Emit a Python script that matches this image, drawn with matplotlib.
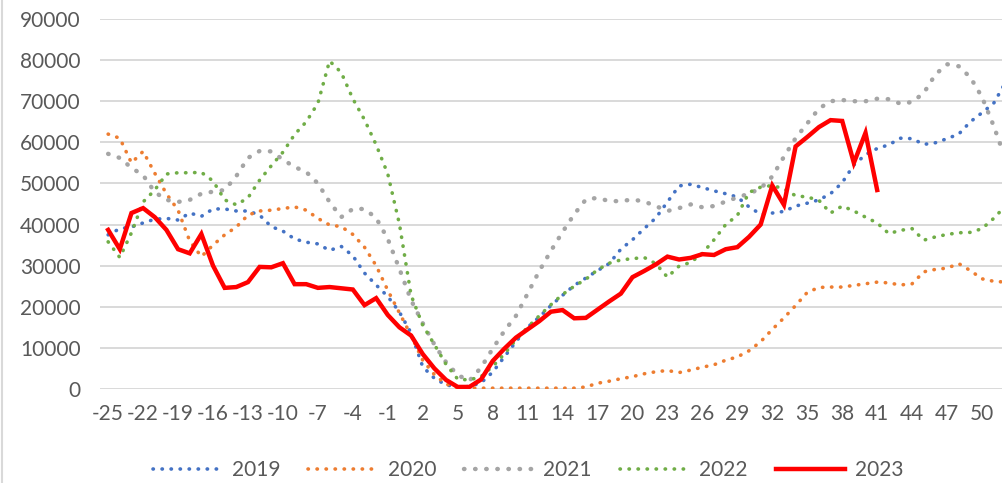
import numpy as np
import matplotlib.pyplot as plt
from matplotlib.lines import Line2D

plt.rcParams['font.family'] = ['Lato', 'DejaVu Sans']
plt.rcParams['axes.unicode_minus'] = False

weeks = list(range(-25, 53))
tick_weeks = list(range(-25, 51, 3))

y2019 = [37500, 39000, 39400, 40400, 41300, 41500, 41100, 42800, 42000, 43800,
         43800, 43300, 43300, 42300, 39500, 38400, 36500, 35700, 35300, 33700,
         34700, 32400, 28200, 25300, 22500, 18700, 13600, 5400, 2600, 1000,
         500, 600, 1500, 4100, 7800, 11500, 15000, 17500, 20300, 22800,
         25200, 27000, 28800, 30500, 34000, 36300, 39000, 41600, 45500, 49400,
         49800, 49000, 48200, 47500, 46700, 44300, 42500, 42800, 43200, 44500,
         45200, 46000, 47500, 50200, 54500, 57000, 58500, 59400, 61000, 60900,
         59500, 59900, 60900, 62000, 65000, 67200, 69500, 74500]

y2020 = [62000, 61000, 55000, 57800, 52500, 47500, 43500, 36000, 32200, 35000,
         37500, 39400, 42300, 43300, 43500, 43900, 44300, 43500, 41500, 39900,
         39500, 37600, 34500, 30000, 24000, 18500, 13000, 7000, 3500, 1200,
         300, 200, 200, 200, 200, 200, 200, 200, 200, 200,
         200, 500, 1400, 1900, 2500, 3000, 3700, 4200, 4500, 4000,
         4600, 5300, 5900, 7000, 7800, 9300, 11500, 14500, 17300, 20300,
         23500, 24700, 24800, 24800, 25200, 25600, 26000, 25800, 25300, 25600,
         28500, 29100, 29400, 30500, 28800, 26800, 26200, 26000]

y2021 = [57200, 56200, 53800, 52000, 47900, 46000, 45500, 46000, 47500, 48000,
         48400, 51800, 56200, 57900, 57800, 55800, 54000, 52800, 50000, 45500,
         41800, 43800, 43800, 41600, 36500, 29200, 21600, 16000, 10800, 6500,
         3400, 2000, 5200, 9800, 14100, 17800, 23200, 28700, 33600, 38200,
         42500, 46100, 46500, 45700, 45700, 46100, 45600, 44500, 43300, 44000,
         44900, 44200, 44500, 45600, 46600, 47500, 48800, 51700, 56500, 61000,
         64600, 68200, 70000, 70300, 70000, 70000, 70600, 70500, 69400, 69800,
         72000, 76500, 79000, 78500, 75800, 71000, 64000, 56000]

y2022 = [35800, 32000, 38000, 45500, 48400, 52300, 52600, 52600, 52700, 50600,
         46000, 44800, 46500, 50800, 54300, 57600, 61900, 65000, 69500, 79800,
         77000, 70600, 65500, 59400, 52300, 40100, 22800, 15500, 10800, 6000,
         2400, 2200, 3000, 5500, 8500, 12000, 15000, 17800, 20500, 23000,
         25000, 26700, 29000, 30600, 31400, 31700, 32000, 30500, 27200, 29900,
         30800, 33000, 36300, 40000, 42200, 47800, 49100, 49500, 48700, 47000,
         46700, 45900, 42800, 44500, 43300, 41800, 40400, 37800, 38600, 39000,
         36200, 37000, 37600, 38000, 38100, 39000, 41500, 44500]

y2023 = [38700, 34000, 42800, 44000, 41800, 38700, 34000, 33000, 37700, 30000,
         24600, 24800, 26000, 29700, 29600, 30600, 25500, 25500, 24600, 24800,
         24500, 24200, 20400, 22100, 18000, 15000, 13000, 8500, 5000, 2200,
         500, 500, 2300, 6800, 9800, 12500, 14500, 16500, 18800, 19200,
         17200, 17300, 19300, 21300, 23200, 27200, 28700, 30300, 32200, 31500,
         31900, 32800, 32600, 34000, 34500, 37000, 40000, 49500, 44800, 59000,
         61300, 63700, 65400, 65200, 55000, 62300, 48400]

labels = ['2019', '2020', '2021', '2022', '2023']
colors = ['#4472C4', '#ED7D31', '#A5A5A5', '#70AD47', '#FF0000']

fig = plt.figure(figsize=(10.03, 4.83), dpi=100)
ax = fig.add_axes([100 / 1003, 1 - 389 / 483, 903 / 1003, 370 / 483])

dotted = dict(linestyle=(0, (0.1, 2.4)), dash_capstyle='round')
ax.plot(weeks, y2019, color=colors[0], lw=2.6, label=labels[0], **dotted)
ax.plot(weeks, y2020, color=colors[1], lw=2.6, label=labels[1], **dotted)
ax.plot(weeks, y2021, color=colors[2], lw=3.2, label=labels[2], **dotted)
ax.plot(weeks, y2022, color=colors[3], lw=2.6, label=labels[3], **dotted)
ax.plot(weeks[:len(y2023)], y2023, color=colors[4], lw=3.2, label=labels[4],
        solid_joinstyle='miter')

ax.set_xlim(-25.7, 51.8)
ax.set_ylim(0, 90000)
ax.set_yticks(range(0, 90001, 10000))
ax.set_xticks(tick_weeks)
ax.grid(axis='y', color='#d9d9d9', lw=1.4)
ax.set_axisbelow(True)
for s in ax.spines.values():
    s.set_visible(False)
ax.tick_params(length=0, labelsize=15, labelcolor='#595959')
ax.tick_params(axis='y', pad=14)
ax.tick_params(axis='x', pad=11)

fig.legend(loc='center', bbox_to_anchor=(528 / 1003, 1 - 470 / 483),
           ncol=5, frameon=False, fontsize=15, labelcolor='#595959',
           handlelength=3.3, handletextpad=0.5, columnspacing=1.35)

fig.add_artist(Line2D([0.002, 0.002], [0, 1], color='#d9d9d9', lw=1.5))

fig.savefig('out.png', dpi=100)
